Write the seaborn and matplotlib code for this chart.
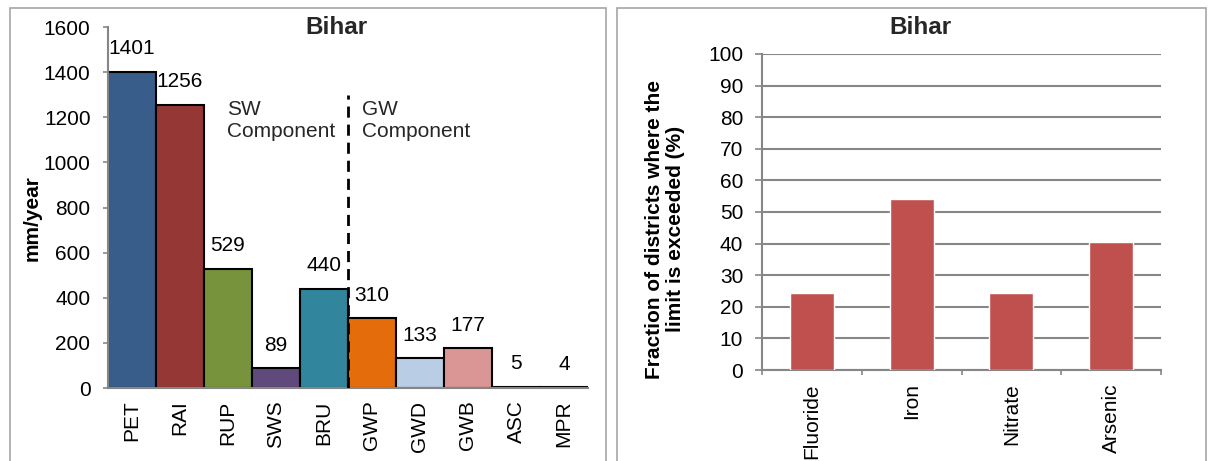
import matplotlib
matplotlib.use("Agg")
import matplotlib.pyplot as plt
import seaborn as sns
from matplotlib.patches import Rectangle

# Water balance components for Bihar (mm/year)
components = ["PET", "RAI", "RUP", "SWS", "BRU", "GWP", "GWD", "GWB", "ASC", "MPR"]
component_values = [1401, 1256, 529, 89, 440, 310, 133, 177, 5, 4]
component_colors = ["#385D8A", "#953735", "#77933C", "#604A7B", "#31859C",
                    "#E46C0A", "#B9CDE5", "#D99694", "#C3D69B", "#FAC090"]

# Share of districts exceeding the drinking-water limit (%)
contaminants = ["Fluoride", "Iron", "Nitrate", "Arsenic"]
exceed_pct = [24.3, 54.1, 24.3, 40.5]

sns.set_theme(style="white")
plt.rcParams["font.family"] = ["Liberation Sans", "DejaVu Sans"]
FS = 15
TITLE_FS = 17.5
GRAY = "#868686"

W, H = 1208, 461
fig = plt.figure(figsize=(W / 100, H / 100), dpi=100)

def frac_box(x0, y0, x1, y1):
    return [x0 / W, 1 - y1 / H, (x1 - x0) / W, (y1 - y0) / H]

# panel frames
for x0, x1 in [(10, 606), (617, 1206)]:
    fig.patches.append(Rectangle((x0 / W, -0.05), (x1 - x0) / W, 1 - 8 / H + 0.05,
                                 transform=fig.transFigure, fill=False,
                                 edgecolor="#A6A6A6", linewidth=1.2))

# ---- left panel: water balance ----
ax1 = fig.add_axes(frac_box(108, 27, 588, 388))
sns.barplot(x=components, y=component_values, hue=components, palette=component_colors,
            legend=False, width=1.0, edgecolor="black", linewidth=1.5, saturation=1, ax=ax1)
ax1.set_xlim(-0.5, len(components) - 0.5)
ax1.set_ylim(0, 1600)
ax1.set_yticks(range(0, 1601, 200))
ax1.tick_params(axis="y", labelsize=FS, length=3.6, width=1.2, color=GRAY, left=True, pad=9)
ax1.tick_params(axis="x", labelsize=FS, length=0, rotation=90, pad=9)
for lab in ax1.get_yticklabels() + ax1.get_xticklabels():
    lab.set_color("black")
for s in ["top", "right"]:
    ax1.spines[s].set_visible(False)
for s in ["left", "bottom"]:
    ax1.spines[s].set_color(GRAY)
    ax1.spines[s].set_linewidth(1.5)
ax1.set_ylabel("mm/year", fontsize=FS, fontweight="bold", color="black", va="center")
ax1.yaxis.set_label_coords(-0.158, 0.47)
ax1.set_xlabel("")

for i, v in enumerate(component_values):
    ax1.annotate(f"{v}", (i, v), xytext=(0, 16.5), textcoords="offset points",
                 ha="center", va="center", fontsize=FS, color="black")

# boundary between surface-water and groundwater components
ax1.plot([4.5, 4.5], [0, 1300], color="black", linestyle=(0, (4, 2.5)), linewidth=2, zorder=5)
ax1.text(0.248, 0.742, "SW\nComponent", transform=ax1.transAxes, fontsize=FS,
         ha="left", va="center", linespacing=1.2)
ax1.text(0.529, 0.742, "GW\nComponent", transform=ax1.transAxes, fontsize=FS,
         ha="left", va="center", linespacing=1.2)
fig.text(336 / W, 1 - 28 / H, "Bihar", ha="center", va="center",
         fontsize=TITLE_FS, fontweight="bold")

# ---- right panel: water quality ----
ax2 = fig.add_axes(frac_box(762, 54, 1161, 370))
sns.barplot(x=contaminants, y=exceed_pct, color="#C0504D", saturation=1,
            width=0.44, ax=ax2, zorder=3)
ax2.set_xlim(-0.5, len(contaminants) - 0.5)
ax2.set_ylim(0, 100)
ax2.set_yticks(range(0, 101, 10))
ax2.yaxis.grid(True, color=GRAY, linewidth=1.5)
ax2.set_axisbelow(True)
ax2.set_xticks([i - 0.5 for i in range(len(contaminants) + 1)], minor=True)
ax2.tick_params(axis="x", which="minor", length=3.6, width=1.2, color=GRAY, bottom=True)
ax2.tick_params(axis="x", which="major", length=0, labelsize=FS, rotation=90, pad=9.5)
ax2.tick_params(axis="y", labelsize=FS, length=5, width=1.2, color=GRAY, left=True, pad=8.5)
for lab in ax2.get_yticklabels() + ax2.get_xticklabels():
    lab.set_color("black")
for s in ["top", "right"]:
    ax2.spines[s].set_visible(False)
for s in ["left", "bottom"]:
    ax2.spines[s].set_color(GRAY)
    ax2.spines[s].set_linewidth(1.5)
ax2.set_ylabel("Fraction of districts where the\nlimit is exceeded (%)",
               fontsize=FS, fontweight="bold", color="black", linespacing=1.1, va="center")
ax2.yaxis.set_label_coords(-0.243, 0.446)
ax2.set_xlabel("")
fig.text(920 / W, 1 - 28 / H, "Bihar", ha="center", va="center",
         fontsize=TITLE_FS, fontweight="bold")

fig.savefig("out.png", dpi=100, facecolor="white")
